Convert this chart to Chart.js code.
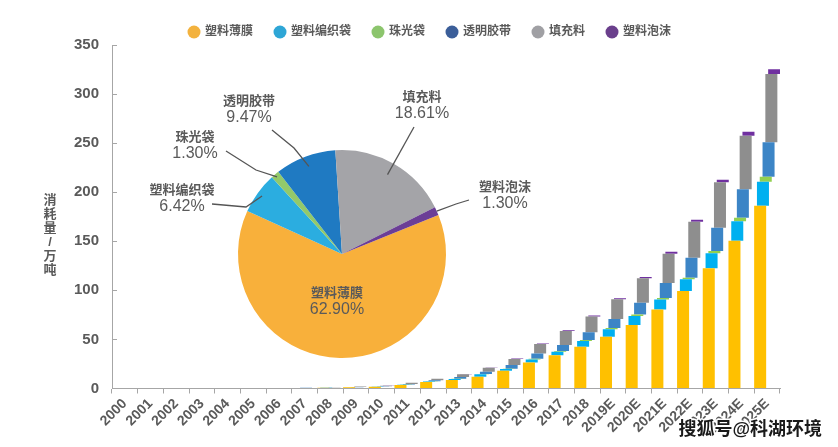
<!DOCTYPE html>
<html><head><meta charset="utf-8">
<script src="https://cdn.jsdelivr.net/npm/chart.js@4.4.1/dist/chart.umd.min.js"></script>
<style>
html,body{margin:0;padding:0;background:#fff;}
#wrap{position:relative;width:838px;height:447px;overflow:hidden;}
canvas{position:absolute;left:0;top:0;}
</style></head><body>
<div id="wrap"><canvas id="bar" width="838" height="447"></canvas><canvas id="pie" width="838" height="447"></canvas></div>
<script>
const years = ['2000','2001','2002','2003','2004','2005','2006','2007','2008','2009','2010','2011','2012','2013','2014','2015','2016','2017','2018','2019E','2020E','2021E','2022E','2023E','2024E','2025E'];
const seriesNames = ['塑料薄膜','塑料编织袋','珠光袋','透明胶带','填充料','塑料泡沫'];
const film   = [0,0,0,0,0,0,0,0.5,0.8,1.2,1.8,3.5,6.5,8.6,12,18,26.5,34,42.5,52.8,64.7,80.5,99.3,122.5,150.6,186.3];
const woven  = [0,0,0,0,0,0,0,0.1,0.1,0.15,0.25,0.4,0.7,1.2,2.5,1.8,3.1,3.4,5.8,7.5,9.2,10.2,12,15.3,19.8,24.4];
const pearl  = [0,0,0,0,0,0,0,0.02,0.02,0.03,0.05,0.1,0.15,0.2,0.3,0.4,0.6,0.7,1.0,1.3,1.5,1.6,1.6,2.3,3.7,5.1];
const tape   = [0,0,0,0,0,0,0,0.1,0.15,0.2,0.3,0.6,1.0,1.8,2.3,3.7,5.5,6.1,8.0,9.2,12,15.3,20.4,23.8,29,35.1];
const filler = [0,0,0,0,0,0,0,0.15,0.25,0.35,0.5,1.2,1.6,2.7,4.1,6.2,9.6,14.3,16,20.1,24.9,29.8,36.7,46.2,54.5,69.6];
const foam   = [0,0,0,0,0,0,0,0.02,0.02,0.03,0.05,0.1,0.1,0.2,0.3,0.4,0.5,0.8,1.2,1.1,1.3,2,2,2.7,4,4.8];
const yTicks = [0,50,100,150,200,250,300,350];
const piePct = [62.90,6.42,1.30,9.47,18.61,1.30];

const barColors = ['#FFC000','#00B0F0','#92D050','#3C85C6','#8E8E8E','#7030A0'];
const legendColors = ['#F3B23E','#2EA6D6','#8CC56D','#3B5E99','#A0A0A4','#6A3F8C'];
const pieColors = ['#F8B03B','#2BADE0','#93C96A','#1F7AC2','#A4A4A8','#6B3E96'];
const FONT = "'Liberation Sans','Noto Sans CJK SC',sans-serif";
const TXT = '#5a5a5a';

const series = [film, woven, pearl, tape, filler, foam];
const cum = years.map(() => 0);
const datasets = series.map((s, k) => ({
  label: seriesNames[k],
  data: s.map((v, i) => { const a = cum[i]; cum[i] += v; return [a, cum[i]]; }),
  backgroundColor: barColors[k],
  borderWidth: 0,
  categoryPercentage: 0.654,
  barPercentage: 4.29
}));

const decor = {
  id: 'decor',
  afterDraw(chart) {
    const ctx = chart.ctx;
    ctx.save();
    // legend
    ctx.font = 'bold 12px ' + FONT;
    ctx.textBaseline = 'middle';
    let x = 194;
    const ly = 32;
    seriesNames.forEach((n, k) => {
      ctx.fillStyle = legendColors[k];
      ctx.beginPath(); ctx.arc(x, ly, 6.5, 0, Math.PI * 2); ctx.fill();
      ctx.fillStyle = TXT;
      ctx.textAlign = 'left';
      ctx.fillText(n, x + 11, ly);
      x += 11 + ctx.measureText(n).width + 27;
    });
    // y title, upright stacked chars
    const title = '消耗量/万吨';
    ctx.font = 'bold 13px ' + FONT;
    ctx.textAlign = 'center';
    ctx.fillStyle = TXT;
    [...title].forEach((c, i) => ctx.fillText(c, 50, 200 + i * 14));
    // watermark
    ctx.font = 'bold 18px ' + FONT;
    ctx.textAlign = 'right';
    ctx.lineWidth = 3;
    ctx.strokeStyle = '#ffffff';
    ctx.lineJoin = 'round';
    ctx.strokeText('搜狐号@科湖环境', 822, 430);
    ctx.fillStyle = '#1a1a1a';
    ctx.fillText('搜狐号@科湖环境', 822, 430);
    ctx.restore();
  }
};

new Chart(document.getElementById('bar'), {
  type: 'bar',
  data: { labels: years, datasets },
  options: {
    responsive: false,
    animation: false,
    layout: { padding: { top: 45, right: 58, left: 0, bottom: 0 } },
    plugins: { legend: { display: false }, tooltip: { enabled: false } },
    scales: {
      x: {
        grid: { offset: true, drawOnChartArea: false, tickLength: 5, color: '#A6A6A6' },
        border: { color: '#A6A6A6' },
        ticks: { autoSkip: false, maxRotation: 45, minRotation: 45, color: TXT, padding: 2, font: { size: 14, weight: 'bold', family: FONT } },
        afterFit(s) { s.height = 58.5; }
      },
      y: {
        min: 0, max: 350,
        afterBuildTicks(s) { s.ticks = yTicks.map(v => ({ value: v })); },
        grid: { drawOnChartArea: false, tickLength: -5, color: '#A6A6A6' },
        border: { color: '#A6A6A6' },
        ticks: { color: TXT, padding: 18, font: { size: 15, weight: 'bold', family: FONT } },
        afterFit(s) { s.width = 112; }
      }
    }
  },
  plugins: [decor]
});

// pie labels: text anchor, leader path points (from text toward slice), radius factor of endpoint
const pieLabelCfg = [
  { inside: true, tx: 337, ty: 293 },
  { tx: 182, ty: 190, path: [[212, 204], [246, 207]], rf: 0.95 },
  { tx: 195, ty: 137, path: [[226, 151], [256, 170]], rf: 0.97 },
  { tx: 249, ty: 101, path: [[272, 130], [294, 148]], rf: 0.9 },
  { tx: 422, ty: 97, path: [[414, 127]], rf: 0.88 },
  { tx: 505, ty: 187, path: [[469, 200], [456, 204]], rf: 1.0 }
];

const pieLabels = {
  id: 'pieLabels',
  afterDraw(chart) {
    const ctx = chart.ctx;
    const meta = chart.getDatasetMeta(0);
    ctx.save();
    ctx.strokeStyle = '#555';
    ctx.lineWidth = 1.3;
    meta.data.forEach((arc, i) => {
      const c = pieLabelCfg[i];
      if (c.path) {
        const mid = (arc.startAngle + arc.endAngle) / 2;
        const px = arc.x + Math.cos(mid) * arc.outerRadius * c.rf;
        const py = arc.y + Math.sin(mid) * arc.outerRadius * c.rf;
        ctx.beginPath();
        ctx.moveTo(c.path[0][0], c.path[0][1]);
        for (let j = 1; j < c.path.length; j++) ctx.lineTo(c.path[j][0], c.path[j][1]);
        ctx.lineTo(px, py);
        ctx.stroke();
      }
      ctx.fillStyle = TXT;
      ctx.textAlign = 'center';
      ctx.textBaseline = 'middle';
      ctx.font = 'bold 13px ' + FONT;
      ctx.fillText(chart.data.labels[i], c.tx, c.ty);
      ctx.font = '16px ' + FONT;
      ctx.fillText(piePct[i].toFixed(2) + '%', c.tx, c.ty + 17);
    });
    ctx.restore();
  }
};

new Chart(document.getElementById('pie'), {
  type: 'pie',
  data: { labels: seriesNames, datasets: [{ data: piePct, backgroundColor: pieColors, borderWidth: 0 }] },
  options: {
    responsive: false,
    animation: false,
    rotation: 68,
    layout: { padding: { left: 238, right: 392, top: 150, bottom: 89 } },
    plugins: { legend: { display: false }, tooltip: { enabled: false } }
  },
  plugins: [pieLabels]
});
</script>
</body></html>
